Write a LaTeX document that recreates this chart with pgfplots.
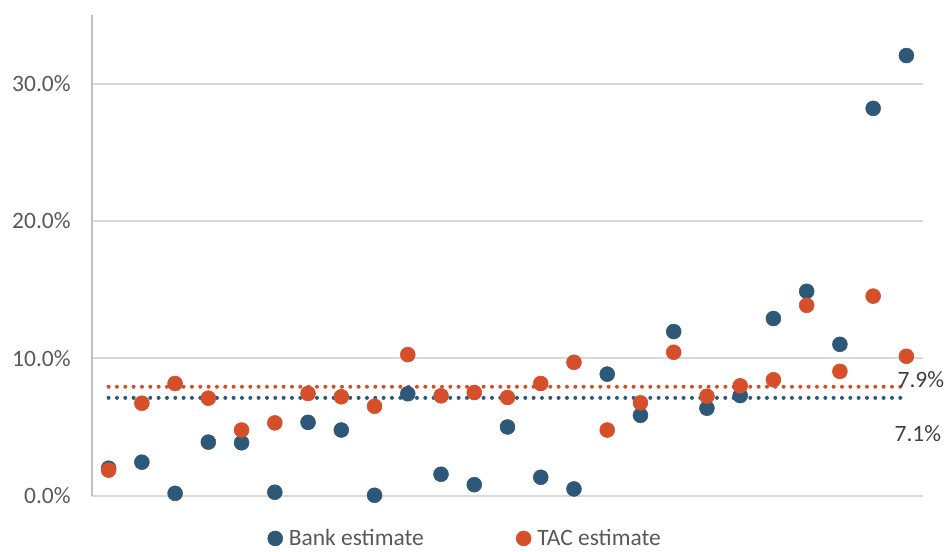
\documentclass[border=0pt]{standalone}
\usepackage{fontspec}
\setmainfont{Carlito}
\usepackage{pgfplots}
\pgfplotsset{compat=1.18}
\usetikzlibrary{calc}

\definecolor{bankblue}{RGB}{46,88,120}
\definecolor{tacorange}{RGB}{213,80,42}
\definecolor{gridgray}{RGB}{217,217,217}
\definecolor{axisgray}{RGB}{191,191,191}
\definecolor{labelgray}{RGB}{89,89,89}
\definecolor{textgray}{RGB}{64,64,64}

\pgfplotstableread{
x bank tac
1  2.00  1.86
2  2.44  6.73
3  0.17  8.17
4  3.90  7.10
5  3.85  4.78
6  0.25  5.30
7  5.34  7.44
8  4.78  7.20
9  0.03  6.51
10 7.42  10.27
11 1.56  7.27
12 0.80  7.51
13 5.00  7.15
14 1.34  8.17
15 0.49  9.71
16 8.85  4.78
17 5.85  6.76
18 11.95 10.44
19 6.37  7.24
20 7.29  8.00
21 12.90 8.44
22 14.88 13.86
23 11.02 9.05
24 28.20 14.53
25 32.05 10.15
}\estimates

\begin{document}
\begin{tikzpicture}
\begin{axis}[
    scale only axis,
    width=623.25pt, height=360.5pt,
    xmin=0.5, xmax=25.5,
    ymin=0, ymax=35,
    clip=false,
    axis x line=none,
    axis y line*=left,
    y axis line style={draw=axisgray, line width=0.9pt, -},
    ytick={0,10,20,30},
    major tick length=0pt,
    ymajorgrids=true,
    grid style={draw=gridgray, line width=1.3pt},
    yticklabel={\pgfmathprintnumber[fixed,fixed zerofill,precision=1]{\tick}\%},
    /pgf/number format/assume math mode=true,
    yticklabel style={font=\fontsize{17.6}{20}\selectfont, text=labelgray, xshift=-12.5pt},
    legend columns=2,
    legend style={draw=none, fill=none, inner xsep=0pt,
        at={(rel axis cs:0.2112,-0.089)}, anchor=west,
        font=\fontsize{17.6}{20}\selectfont, text=labelgray,
        /tikz/every even column/.append style={column sep=67.25pt}},
    legend image code/.code={\draw[#1] plot coordinates {(0pt,0pt)}; \path (8pt,0pt);},
    legend cell align=left,
]
% mean lines
\addplot[tacorange, line width=3pt, line cap=round, dash pattern=on 0pt off 6.25pt, forget plot]
    coordinates {(1,7.93) (25,7.93)};
\addplot[bankblue, line width=3pt, line cap=round, dash pattern=on 0pt off 6.25pt, forget plot]
    coordinates {(1,7.12) (25,7.12)};
\addplot[only marks, mark=*, mark size=5.6pt, color=bankblue, mark options={draw=bankblue, fill=bankblue}]
    table[x=x, y=bank] {\estimates};
\addlegendentry{Bank estimate}
\addplot[only marks, mark=*, mark size=5.6pt, color=tacorange, mark options={draw=tacorange, fill=tacorange}]
    table[x=x, y=tac] {\estimates};
\addlegendentry{TAC estimate}
\node[anchor=west, inner sep=0pt, text=textgray, font=\fontsize{17.6}{20}\selectfont] at (axis cs:24.73,8.46) {7.9\%};
\node[anchor=west, inner sep=0pt, text=textgray, font=\fontsize{17.6}{20}\selectfont] at (axis cs:24.64,4.51) {7.1\%};
\end{axis}
\pgfresetboundingbox
\path ($(current axis.south west)+(-69pt,-41.5pt)$) rectangle ($(current axis.north east)+(17.25pt,11.25pt)$);
\end{tikzpicture}
\end{document}
